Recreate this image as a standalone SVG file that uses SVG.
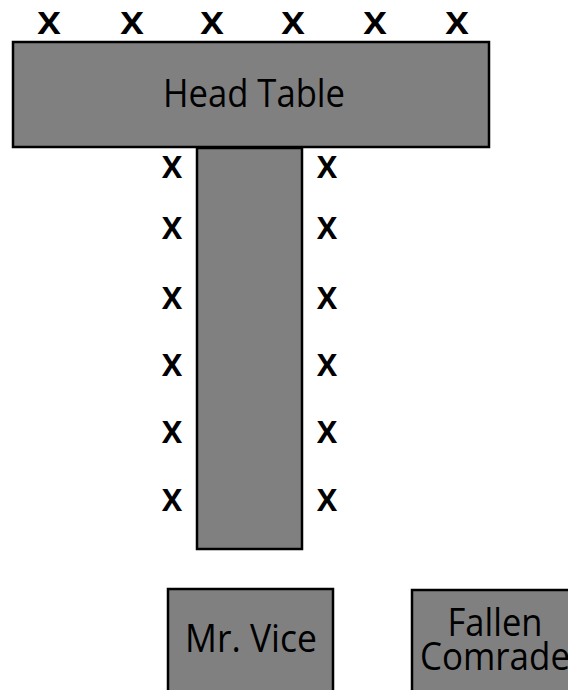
<svg xmlns="http://www.w3.org/2000/svg" width="568" height="690" viewBox="0 0 568 690">
<style>
.tbl{fill:#808080;stroke:#000;stroke-width:2.5}
.lbl{font-family:"Open Sans","Noto Sans",sans-serif;font-weight:500;fill:#000;text-anchor:middle}
.seat{font-family:"Open Sans","DejaVu Sans",sans-serif;font-weight:600;font-size:40px;fill:#000;text-anchor:middle}
</style>
<rect width="568" height="690" fill="#fff"/>
<g id="head-table">
<rect class="tbl" x="13" y="42" width="476" height="105"/>
<text class="lbl" x="254" y="107" font-size="38" textLength="182" lengthAdjust="spacingAndGlyphs">Head Table</text>
</g>
<g id="long-table">
<rect class="tbl" x="197" y="148" width="105" height="401"/>
</g>
<g id="mr-vice">
<rect class="tbl" x="168" y="589" width="165" height="110"/>
<text class="lbl" x="251" y="652" font-size="38" textLength="132" lengthAdjust="spacingAndGlyphs">Mr. Vice</text>
</g>
<g id="fallen-comrade">
<rect class="tbl" x="412" y="590" width="170" height="110"/>
<text class="lbl" x="495" y="636" font-size="38" textLength="95" lengthAdjust="spacingAndGlyphs">Fallen</text>
<text class="lbl" x="495" y="670" font-size="38" textLength="150" lengthAdjust="spacingAndGlyphs">Comrade</text>
</g>
<g id="seats">
<text class="seat" x="49" y="34" textLength="24" lengthAdjust="spacingAndGlyphs">x</text>
<text class="seat" x="132" y="34" textLength="24" lengthAdjust="spacingAndGlyphs">x</text>
<text class="seat" x="212" y="34" textLength="24" lengthAdjust="spacingAndGlyphs">x</text>
<text class="seat" x="293" y="34" textLength="24" lengthAdjust="spacingAndGlyphs">x</text>
<text class="seat" x="375" y="34" textLength="24" lengthAdjust="spacingAndGlyphs">x</text>
<text class="seat" x="457" y="34" textLength="24" lengthAdjust="spacingAndGlyphs">x</text>
<text class="seat" x="172" y="178" textLength="21" lengthAdjust="spacingAndGlyphs">x</text>
<text class="seat" x="172" y="239" textLength="21" lengthAdjust="spacingAndGlyphs">x</text>
<text class="seat" x="172" y="309" textLength="21" lengthAdjust="spacingAndGlyphs">x</text>
<text class="seat" x="172" y="376" textLength="21" lengthAdjust="spacingAndGlyphs">x</text>
<text class="seat" x="172" y="443" textLength="21" lengthAdjust="spacingAndGlyphs">x</text>
<text class="seat" x="172" y="511" textLength="21" lengthAdjust="spacingAndGlyphs">x</text>
<text class="seat" x="327" y="178" textLength="21" lengthAdjust="spacingAndGlyphs">x</text>
<text class="seat" x="327" y="239" textLength="21" lengthAdjust="spacingAndGlyphs">x</text>
<text class="seat" x="327" y="309" textLength="21" lengthAdjust="spacingAndGlyphs">x</text>
<text class="seat" x="327" y="376" textLength="21" lengthAdjust="spacingAndGlyphs">x</text>
<text class="seat" x="327" y="443" textLength="21" lengthAdjust="spacingAndGlyphs">x</text>
<text class="seat" x="327" y="511" textLength="21" lengthAdjust="spacingAndGlyphs">x</text>
</g>
<g id="connectors"></g>
</svg>
